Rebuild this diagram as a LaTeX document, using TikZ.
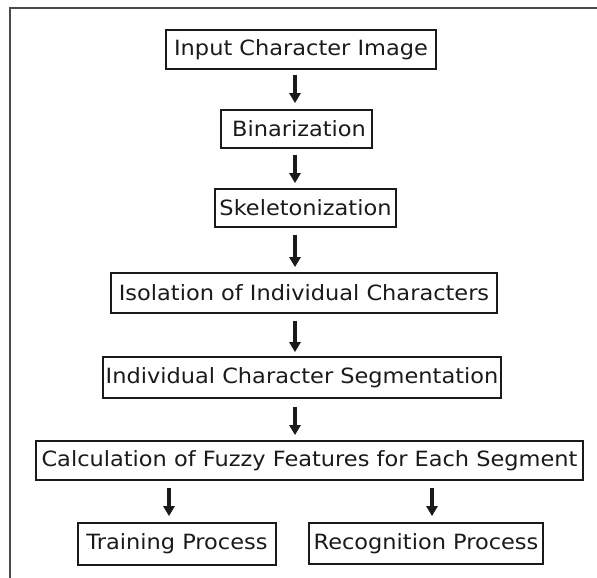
\documentclass[tikz,border=0pt]{standalone}
\usepackage{fontspec}
\setmainfont{DejaVu Sans}[FakeStretch=1.07]
\usetikzlibrary{arrows.meta}
\definecolor{ink}{HTML}{1A1A1A}
\definecolor{framec}{HTML}{4A4A4A}
\begin{document}
\begin{tikzpicture}[x=1pt,y=-1pt,
  stepbox/.style={draw=ink, line width=1.7pt, inner sep=0pt, text=ink,
    font=\fontsize{21}{25}\selectfont, anchor=center},
  arr/.style={draw=ink, line width=3.2pt, -{Triangle[width=11pt,length=10pt]}}]
\useasboundingbox (0,0) rectangle (597,578);
\draw[framec, line width=2.2pt] (10,590) -- (10,8) -- (610,8);

\node[stepbox, minimum width=270pt, minimum height=39pt] (b1) at (301,49.5) {Input Character Image};
\node[stepbox, minimum width=151pt, minimum height=38pt] (b2) at (296.5,129) {\hspace{5pt}Binarization};
\node[stepbox, minimum width=181pt, minimum height=38pt] (b3) at (305.5,208) {Skeletonization};
\node[stepbox, minimum width=386pt, minimum height=40pt] (b4) at (304,293) {Isolation of Individual Characters};
\node[stepbox, minimum width=398pt, minimum height=41pt] (b5) at (302,377.5) {Individual Character Segmentation};
\node[stepbox, minimum width=547pt, minimum height=39pt] (b6) at (309.5,460.5) {Calculation of Fuzzy Features for Each Segment};
\node[stepbox, minimum width=198pt, minimum height=42pt] (b7) at (177,544) {Training Process};
\node[stepbox, minimum width=234pt, minimum height=41pt] (b8) at (426,543.5) {Recognition Process};

\coordinate (cm) at (295,0);
\coordinate (cl) at (169,0);
\coordinate (cr) at (432,0);

\draw[arr] ([yshift=-5pt]b1.south -| cm) -- ([yshift=6pt]b2.north -| cm);
\draw[arr] ([yshift=-6pt]b2.south -| cm) -- ([yshift=5pt]b3.north -| cm);
\draw[arr] ([yshift=-7pt]b3.south -| cm) -- ([yshift=5pt]b4.north -| cm);
\draw[arr] ([yshift=-7pt]b4.south -| cm) -- ([yshift=4pt]b5.north -| cm);
\draw[arr] ([yshift=-8pt]b5.south -| cm) -- ([yshift=5pt]b6.north -| cm);
\draw[arr] ([yshift=-7pt]b6.south -| cl) -- ([yshift=6pt]b7.north -| cl);
\draw[arr] ([yshift=-7pt]b6.south -| cr) -- ([yshift=6pt]b8.north -| cr);
\end{tikzpicture}
\end{document}
